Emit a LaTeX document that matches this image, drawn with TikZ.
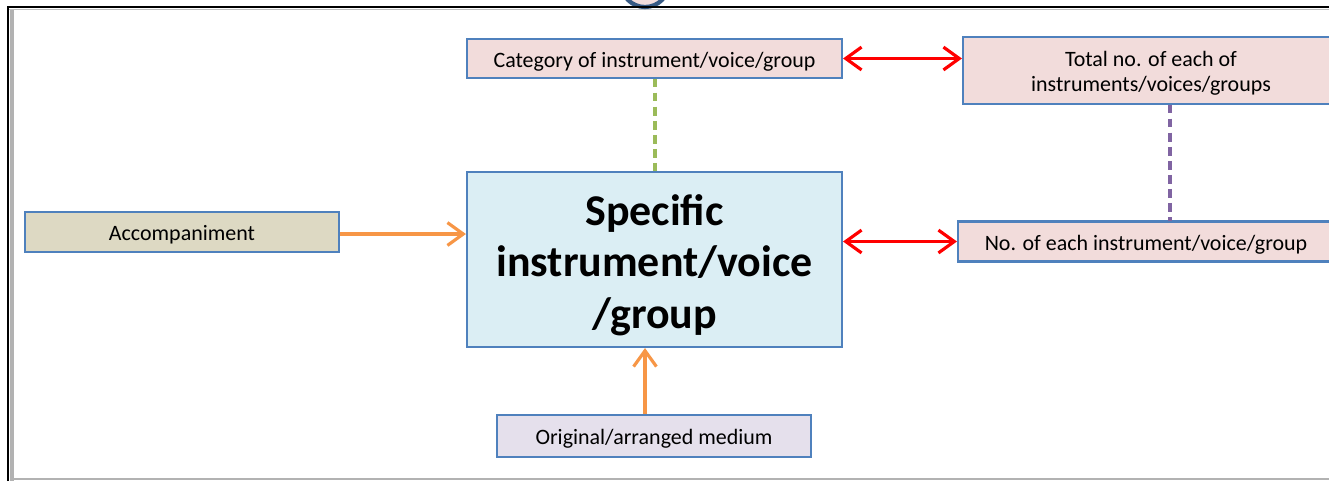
\documentclass[tikz,border=0pt]{standalone}
\usepackage{fontspec}
\setmainfont{Carlito}
\usetikzlibrary{arrows.meta}

\definecolor{boxblue}{HTML}{4F81BD}
\definecolor{pinkfill}{HTML}{F2DCDB}
\definecolor{bluefill}{HTML}{DBEEF4}
\definecolor{tanfill}{HTML}{DDD9C3}
\definecolor{lilacfill}{HTML}{E5E0EC}
\definecolor{arrorange}{HTML}{F79646}
\definecolor{dashgreen}{HTML}{9BBB59}
\definecolor{dashpurple}{HTML}{8064A2}

% extra height on the first line, to set the text a little lower
\newcommand{\lowertext}[1]{\rule{0pt}{#1}}

\tikzset{
  field/.style={draw=boxblue,line width=1.2pt,inner sep=0pt,align=center,
    font=\fontsize{12.5}{14.2}\selectfont},
  barb/.tip={Straight Barb[length=9pt,width=13pt,line width=1.8pt]},
  link/.style={line width=1.8pt,-barb},
  twoway/.style={line width=1.8pt,red,barb-barb},
  tie/.style={line width=1.8pt,dash pattern=on 5pt off 3pt}
}

\begin{document}
\begin{tikzpicture}[x=0.02cm,y=-0.02cm]
            \clip (0,0) rectangle (1329,481);
            \fill[white] (0,0) rectangle (1329,481);
            % frame
            \draw[gray!60,line width=2pt] (12,10) -- (12,481);
            \draw[gray!50,line width=0.6pt] (9,9.5) -- (1329,9.5);
            \draw[gray!60,line width=0.8pt] (14,479) -- (1329,479);
            \filldraw[fill=pinkfill,draw=boxblue!70!black,line width=2.4pt] (645,-17) circle (24);
            \draw[black,line width=1.2pt] (8,481) -- (8,7) -- (1329,7);

            \node[field,fill=bluefill,minimum width=375*0.02cm,minimum height=175*0.02cm,
              font=\bfseries\fontsize{25}{29.5}\selectfont] (main) at (654.5,259.5)
              {\lowertext{24pt}Specific\\instrument/voice\\/group};
            \node[field,fill=pinkfill,minimum width=375*0.02cm,minimum height=39*0.02cm] (cat) at (654.5,58.5)
              {\lowertext{12pt}Category of instrument/voice/group};
            \node[field,fill=pinkfill,minimum width=376*0.02cm,minimum height=67*0.02cm] (tot) at (1151,70.5)
              {\lowertext{12pt}Total no. of each of\\instruments/voices/groups};
            \node[field,fill=pinkfill,minimum width=376*0.02cm,minimum height=40*0.02cm] (num) at (1146,241.5)
              {\lowertext{12pt}No. of each instrument/voice/group};
            \node[field,fill=tanfill,minimum width=314*0.02cm,minimum height=40*0.02cm] (acc) at (182,232)
              {\lowertext{12pt}Accompaniment};
            \node[field,fill=lilacfill,minimum width=314*0.02cm,minimum height=42*0.02cm] (orig) at (654,436)
              {\lowertext{12pt}Original/arranged medium};

            \coordinate (catlink) at (655,78.6);
            \coordinate (mainlink) at (655,171.4);
            \draw[tie,dashgreen] (catlink) -- (mainlink);
            \coordinate (totlink) at (1170,104.6);
            \coordinate (numlink) at (1170,220.8);
            \draw[tie,dashpurple] (totlink) -- (numlink);
            \draw[twoway] (cat.east) -- (tot.west |- cat.east);
            \draw[twoway] (main.east |- num.west) -- (num.west);
            \draw[link,arrorange] (acc.east |- 0,234) -- (main.west |- 0,234);
            \draw[link,arrorange] (orig.north -| 645,0) -- (main.south -| 645,0);
        \end{tikzpicture}
\end{document}
